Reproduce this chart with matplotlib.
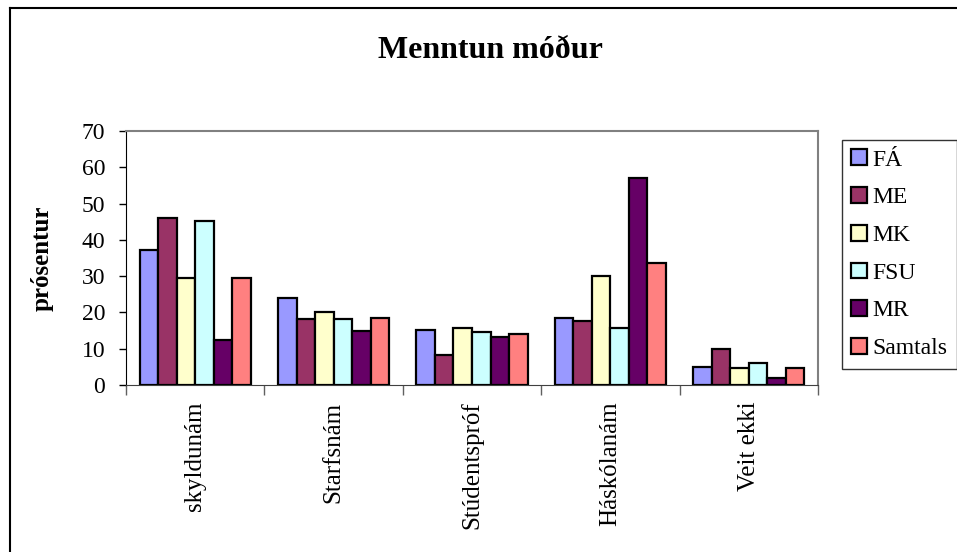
"""Menntun móður — grouped bar chart (Excel style)."""

import numpy as np
import matplotlib
matplotlib.use("Agg")
import matplotlib.pyplot as plt
from matplotlib.lines import Line2D

categories = ["skyldunám", "Starfsnám", "Stúdentspróf", "Háskólanám", "Veit ekki"]
series = ["FÁ", "ME", "MK", "FSU", "MR", "Samtals"]
fa = [37.2, 23.9, 15.2, 18.5, 4.9]
me = [46.1, 18.1, 8.2, 17.6, 9.8]
mk = [29.4, 20.0, 15.6, 30.1, 4.6]
fsu = [45.2, 18.3, 14.7, 15.6, 6.0]
mr = [12.4, 14.9, 13.3, 57.1, 1.8]
samtals = [29.4, 18.5, 14.0, 33.7, 4.6]
colors = ["#9999FF", "#993366", "#FFFFCC", "#CCFFFF", "#660066", "#FF8080"]
yticks = [0, 10, 20, 30, 40, 50, 60, 70]

plt.rcParams["font.family"] = ["Liberation Serif", "DejaVu Serif"]

fig = plt.figure(figsize=(9.57, 5.52), dpi=100)
ax = fig.add_axes([126 / 957, 1 - 385 / 552, 692 / 957, 254 / 552])

x = np.arange(len(categories))
w = 0.134
for k, (name, vals) in enumerate(zip(series, [fa, me, mk, fsu, mr, samtals])):
    ax.bar(x + (k - 2.5) * w, vals, w, color=colors[k], edgecolor="black",
           linewidth=1.6, label=name, zorder=3)

ax.set_xlim(-0.5, len(categories) - 0.5)
ax.set_ylim(0, 70)
ax.set_yticks(yticks)
ax.tick_params(axis="y", labelsize=17, length=5, width=1, pad=10, colors="black")

ax.set_xticks(x)
ax.set_xticklabels(categories, rotation=90, fontsize=18, va="top")
ax.tick_params(axis="x", which="major", length=0, pad=12)
ax.set_xticks(np.arange(len(categories) + 1) - 0.5, minor=True)
ax.tick_params(axis="x", which="minor", length=7, width=1, color="#606060")

for side in ("top", "right"):
    ax.spines[side].set_color("#808080")
    ax.spines[side].set_linewidth(1.5)
ax.spines["left"].set_color("black")
ax.spines["bottom"].set_color("#404040")

ax.set_ylabel("prósentur", fontsize=18, fontweight="bold", labelpad=20)

fig.text(490 / 957, 1 - 50 / 552, "Menntun móður", ha="center", va="center",
         fontsize=23, fontweight="bold")

leg = fig.legend(loc="upper left", bbox_to_anchor=(842 / 957, 1 - 140 / 552),
                 frameon=True, fancybox=False, fontsize=17, handlelength=0.65,
                 handleheight=0.65, handletextpad=0.25, labelspacing=0.7,
                 borderaxespad=0, borderpad=0.4)
leg.get_frame().set_edgecolor("black")
leg.get_frame().set_linewidth(1)

# outer chart border (only top and left edges visible)
fig.add_artist(Line2D([10 / 957, 10 / 957], [0, 1 - 8 / 552], transform=fig.transFigure,
                      color="black", linewidth=1.5))
fig.add_artist(Line2D([10 / 957, 1], [1 - 8 / 552, 1 - 8 / 552], transform=fig.transFigure,
                      color="black", linewidth=1.5))

fig.savefig("out.png", dpi=100)
